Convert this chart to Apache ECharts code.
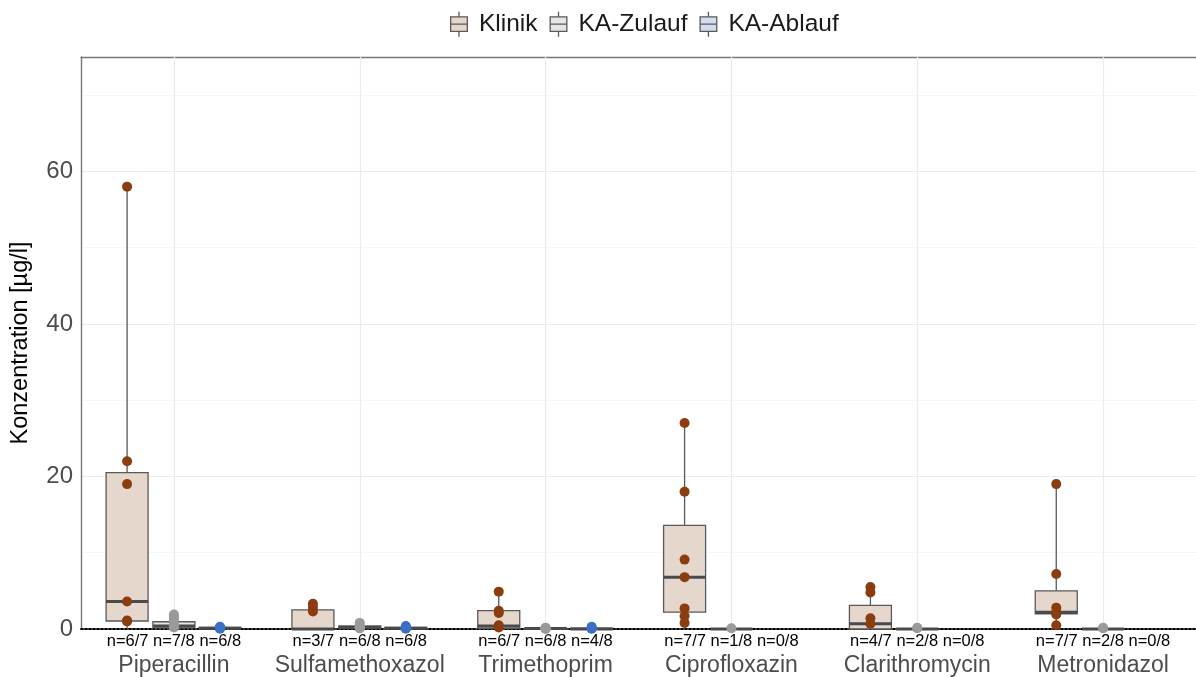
<!DOCTYPE html>
<html>
<head>
<meta charset="utf-8">
<script src="https://cdn.jsdelivr.net/npm/echarts@6/dist/echarts.min.js"></script>
<style>
  html, body { margin: 0; padding: 0; background: #fff; }
  #chart { width: 1196px; height: 677px; }
</style>
</head>
<body>
<div id="chart"></div>
<script>
// Antibiotic concentrations in clinic effluent and treatment plant inflow/outflow
const categories = ['Piperacillin', 'Sulfamethoxazol', 'Trimethoprim', 'Ciprofloxazin', 'Clarithromycin', 'Metronidazol'];
const groups = ['Klinik', 'KA-Zulauf', 'KA-Ablauf'];

// detections / samples
const nKlinik = ['n=6/7', 'n=3/7', 'n=6/7', 'n=7/7', 'n=4/7', 'n=7/7'];
const nZulauf = ['n=7/8', 'n=6/8', 'n=6/8', 'n=1/8', 'n=2/8', 'n=2/8'];
const nAblauf = ['n=6/8', 'n=6/8', 'n=4/8', 'n=0/8', 'n=0/8', 'n=0/8'];

// box statistics: [lower whisker, Q1, median, Q3, upper whisker]
const klinikBox = [[0, 1.05, 3.6, 20.5, 58], [0, 0, 0, 2.5, 3.3], [0, 0.1, 0.4, 2.4, 4.9], [0.8, 2.2, 6.8, 13.6, 27], [0, 0, 0.7, 3.1, 5.5], [0.5, 2.0, 2.2, 5.0, 19]];
const zulaufBox = [[0, 0.15, 0.4, 0.95, 1.9], [0, 0.1, 0.2, 0.4, 0.8], [0, 0, 0.05, 0.1, 0.15], [0, 0, 0, 0, 0.1], [0, 0, 0, 0, 0.15], [0, 0, 0, 0, 0.15]];
const ablaufBox = [[0, 0.05, 0.1, 0.2, 0.3], [0, 0.05, 0.1, 0.2, 0.4], [0, 0, 0, 0.1, 0.3], null, null, null];

// individual measurements
const klinikPoints = [[58, 22, 19, 3.6, 1.1, 1.0], [3.3, 2.8, 2.3], [4.9, 2.4, 2.1, 0.5, 0.3, 0.2], [27, 18, 9.1, 6.8, 2.7, 1.7, 0.8], [5.5, 4.8, 1.4, 0.7], [19, 7.2, 2.8, 2.2, 2.1, 1.9, 0.5]];
const zulaufPoints = [[1.9, 1.6, 1.3, 0.9, 0.5, 0.3, 0.2], [0.8, 0.5, 0.3, 0.2, 0.1, 0.1], [0.15, 0.1, 0.1, 0.05, 0.05, 0.05], [0.1], [0.15, 0.1], [0.15, 0.1]];
const ablaufPoints = [[0.3, 0.2, 0.15, 0.1, 0.1, 0.05], [0.4, 0.2, 0.15, 0.1, 0.1, 0.05], [0.3, 0.1, 0.05, 0.05], [], [], []];

const yTickLabels = [0, 20, 40, 60];

const FONT = "'Liberation Sans', Arial, sans-serif";
const boxFill = ['#E6D7CC', '#E5E5E5', '#D3DCEE'];
const pointColor = ['#8B3D0F', '#9A9A9A', '#3B6FC6'];
const slotOffset = [-0.252, 0, 0.248];
const edgeColor = '#595959';
const frameColor = '#777777';

function boxRows(stats) {
  const rows = [];
  stats.forEach((s, i) => { if (s) rows.push([i].concat(s)); });
  return rows;
}
function pointRows(points) {
  const rows = [];
  points.forEach((arr, i) => arr.forEach(v => rows.push([i, v])));
  return rows;
}

function boxRenderer(g) {
  return function (params, api) {
    const ci = api.value(0);
    const band = api.size([1, 0])[0];
    const cx = api.coord([ci, 0])[0] + slotOffset[g] * band;
    const hw = band * 0.113;
    const y = k => api.coord([ci, api.value(k)])[1];
    const lo = y(1), q1 = y(2), md = y(3), q3 = y(4), hi = y(5);
    const wStyle = { stroke: edgeColor, lineWidth: 1.3 };
    return {
      type: 'group',
      children: [
        { type: 'line', shape: { x1: cx, y1: hi, x2: cx, y2: q3 }, style: wStyle },
        { type: 'line', shape: { x1: cx, y1: q1, x2: cx, y2: lo }, style: wStyle },
        { type: 'rect', shape: { x: cx - hw, y: q3, width: 2 * hw, height: q1 - q3 },
          style: { fill: boxFill[g], stroke: edgeColor, lineWidth: 1.3 } },
        { type: 'line', shape: { x1: cx - hw, y1: md, x2: cx + hw, y2: md },
          style: { stroke: '#4A4A4A', lineWidth: 3 } }
      ]
    };
  };
}

function pointRenderer(g) {
  return function (params, api) {
    const ci = api.value(0);
    const band = api.size([1, 0])[0];
    const p = api.coord([ci, api.value(1)]);
    return {
      type: 'circle',
      shape: { cx: p[0] + slotOffset[g] * band, cy: p[1], r: 5 },
      style: { fill: pointColor[g] }
    };
  };
}

const boxStats = [klinikBox, zulaufBox, ablaufBox];
const pointSets = [klinikPoints, zulaufPoints, ablaufPoints];

const legendIcon = 'path://M10,0L10,5M2,5L18,5L18,19L2,19ZM2,12L18,12M10,19L10,24';

const series = [];
groups.forEach((name, g) => {
  const s = {
    name: name,
    type: 'custom',
    renderItem: boxRenderer(g),
    data: boxRows(boxStats[g]),
    encode: { x: 0, y: [1, 2, 3, 4, 5] },
    itemStyle: { color: boxFill[g] },
    clip: false,
    z: 2
  };
  if (g === 0) {
    // vertical grid lines through each compound
    s.markLine = {
      silent: true,
      symbol: 'none',
      z: 1,
      label: { show: false },
      lineStyle: { color: '#EBEBEB', width: 1.2, type: 'solid' },
      data: categories.map(c => ({ xAxis: c }))
    };
  }
  series.push(s);
});
groups.forEach((name, g) => {
  series.push({
    name: name,
    type: 'custom',
    renderItem: pointRenderer(g),
    data: pointRows(pointSets[g]),
    encode: { x: 0, y: 1 },
    itemStyle: { color: pointColor[g] },
    clip: false,
    z: 3
  });
});

const chart = echarts.init(document.getElementById('chart'), null, { renderer: 'canvas' });
chart.setOption({
  animation: false,
  backgroundColor: '#ffffff',
  textStyle: { fontFamily: FONT },
  legend: {
    top: 6,
    left: 445,
    itemWidth: 20,
    itemHeight: 25,
    itemGap: 12,
    selectedMode: false,
    textStyle: { fontSize: 24.5, color: '#1A1A1A', padding: [0, 0, 0, 5], fontFamily: FONT },
    data: groups.map((name, g) => ({
      name: name,
      icon: legendIcon,
      itemStyle: { color: boxFill[g], borderColor: edgeColor, borderWidth: 1.3 }
    }))
  },
  grid: { left: 81, right: -1, top: 57, bottom: 48 },
  xAxis: [{
    type: 'category',
    data: categories,
    axisLine: { show: true, lineStyle: { color: '#000', width: 2, type: 'dotted' } },
    axisTick: { show: false },
    splitLine: { show: false },
    axisLabel: {
      interval: 0,
      margin: 3,
      formatter: (v, i) => '{n|' + nKlinik[i] + ' ' + nZulauf[i] + ' ' + nAblauf[i] + '}\n{c|' + v + '}',
      rich: {
        n: { fontSize: 16.5, color: '#000', lineHeight: 19, fontFamily: FONT },
        c: { fontSize: 23, color: '#4D4D4D', lineHeight: 29, fontFamily: FONT }
      }
    }
  }, {
    // top frame of the panel
    type: 'category',
    position: 'top',
    data: categories,
    axisLine: { show: true, lineStyle: { color: frameColor, width: 1.4 } },
    axisTick: { show: false },
    axisLabel: { show: false },
    splitLine: { show: false }
  }],
  yAxis: {
    type: 'value',
    min: 0,
    max: 75,
    interval: 10,
    name: 'Konzentration [µg/l]',
    nameLocation: 'middle',
    nameGap: 48,
    nameTextStyle: { fontSize: 23.5, color: '#000', fontFamily: FONT },
    axisLine: { show: true, lineStyle: { color: frameColor, width: 1.4 } },
    axisTick: { show: false },
    axisLabel: {
      fontSize: 24,
      color: '#4D4D4D',
      margin: 8,
      fontFamily: FONT,
      formatter: v => (yTickLabels.indexOf(v) >= 0 ? String(v) : '')
    },
    splitLine: { show: true, lineStyle: { color: ['#EBEBEB', '#F5F5F5'], width: 1.2 } }
  },
  series: series
});
</script>
</body>
</html>
